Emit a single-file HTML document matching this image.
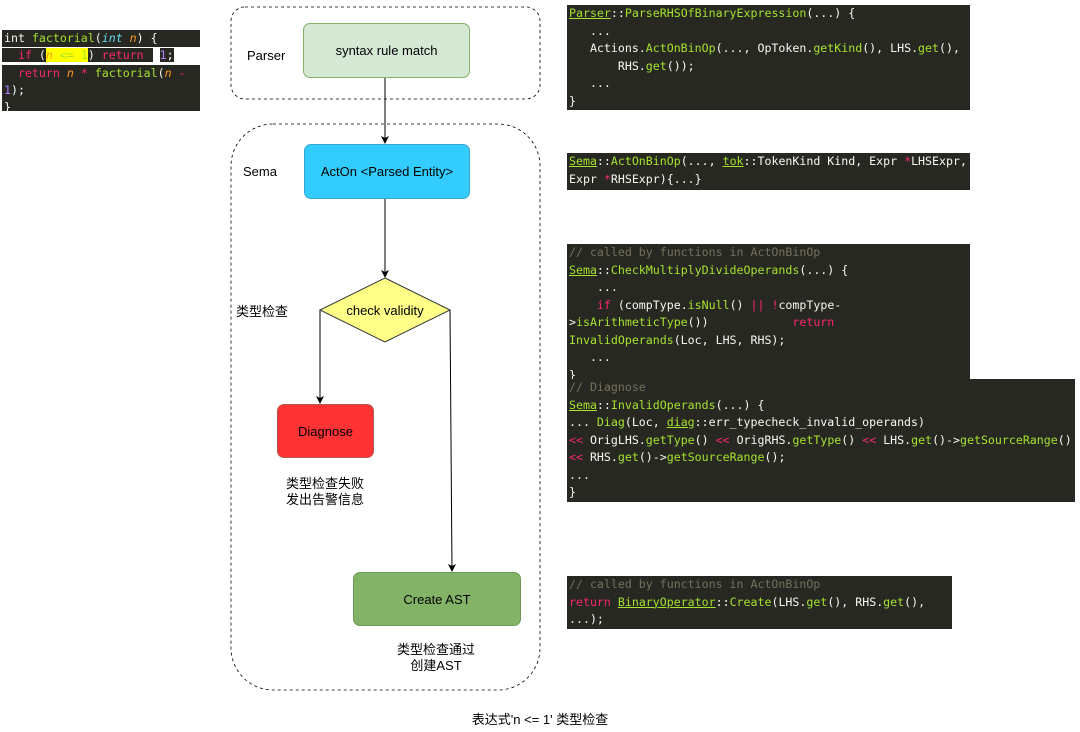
<!DOCTYPE html>
<html><head><meta charset="utf-8"><style>
body{margin:0;width:1080px;height:732px;background:#fff;position:relative;overflow:hidden;font-family:"Liberation Sans","Noto Sans CJK SC",sans-serif;}
.code{position:absolute;background:#272822;color:#f8f8f2;font-family:"DejaVu Sans Mono","Liberation Mono",monospace;font-size:11.6px;line-height:17.5px;white-space:pre;box-sizing:border-box;padding:0 2px;}
.g{color:#a6e22e}.r{color:#f92672}.c{color:#75715e}.o{color:#fd971f;font-style:italic}.b{color:#66d9ef;font-style:italic}.p{color:#ae81ff}.u{text-decoration:underline}
.t{position:absolute;font-size:13px;color:#000;white-space:nowrap}
.n{position:absolute;box-sizing:border-box;display:flex;align-items:center;justify-content:center;font-size:13px;border-radius:7px}
</style></head><body>
<div class="code" style="left:2px;top:30px;width:198px;height:17px;line-height:17px">int <span class="g">factorial</span>(<span class="b">int</span> <span class="o">n</span>) {</div>
<div class="code" style="left:2px;top:47px;width:198px;height:17px;line-height:17px;background:#fff;padding:0"><span style="background:#272822;padding:0 2px">  <span class="r">if</span> (<span style="background:#ffff00"><span class="o">n</span> <span class="g">&lt;=</span> <span class="g">1</span></span>) <span class="r">return</span> </span> <span style="background:#272822"><span class="p">1</span>;</span></div>
<div class="code" style="left:2px;top:65px;width:198px;height:46px;line-height:17px">  <span class="r">return</span> <span class="o">n</span> <span class="r">*</span> <span class="g">factorial</span>(<span class="o">n</span> <span class="r">-</span>
<span class="p">1</span>);
}</div>

<div class="code" style="left:567px;top:5px;width:403px;height:105px;padding-top:0"><span class="g u">Parser</span>::<span class="g">ParseRHSOfBinaryExpression</span>(...) {
   ...
   Actions.<span class="g">ActOnBinOp</span>(..., OpToken.<span class="g">getKind</span>(), LHS.<span class="g">get</span>(),
       RHS.<span class="g">get</span>());
   ...
}</div>
<div class="code" style="left:567px;top:153px;width:403px;height:37px"><span class="g u">Sema</span>::<span class="g">ActOnBinOp</span>(..., <span class="g u">tok</span>::TokenKind Kind, Expr <span class="r">*</span>LHSExpr,
Expr <span class="r">*</span>RHSExpr){...}</div>
<div class="code" style="left:567px;top:244px;width:403px;height:137px"><span class="c">// called by functions in ActOnBinOp</span>
<span class="g u">Sema</span>::<span class="g">CheckMultiplyDivideOperands</span>(...) {
    ...
    <span class="r">if</span> (compType.<span class="g">isNull</span>() <span class="r">||</span> <span class="r">!</span>compType-
&gt;<span class="g">isArithmeticType</span>())            <span class="r">return</span>
<span class="g">InvalidOperands</span>(Loc, LHS, RHS);
   ...
}</div>
<div class="code" style="left:567px;top:379px;width:508px;height:123px"><span class="c">// Diagnose</span>
<span class="g u">Sema</span>::<span class="g">InvalidOperands</span>(...) {
... <span class="g">Diag</span>(Loc, <span class="g u">diag</span>::err_typecheck_invalid_operands)
<span class="r">&lt;&lt;</span> OrigLHS.<span class="g">getType</span>() <span class="r">&lt;&lt;</span> OrigRHS.<span class="g">getType</span>() <span class="r">&lt;&lt;</span> LHS.<span class="g">get</span>()-&gt;<span class="g">getSourceRange</span>()
<span class="r">&lt;&lt;</span> RHS.<span class="g">get</span>()-&gt;<span class="g">getSourceRange</span>();
...
}</div>
<div class="code" style="left:567px;top:576px;width:385px;height:53px"><span class="c">// called by functions in ActOnBinOp</span>
<span class="r">return</span> <span class="g u">BinaryOperator</span>::<span class="g">Create</span>(LHS.<span class="g">get</span>(), RHS.<span class="g">get</span>(),
...);</div>

<svg style="position:absolute;left:0;top:0" width="1080" height="732">
<defs><marker id="a" markerWidth="8" markerHeight="8" refX="7" refY="4" orient="auto" markerUnits="userSpaceOnUse"><path d="M0,0L8,4L0,8L2,4z" fill="#000"/></marker></defs>
<rect x="231" y="7" width="309" height="92" rx="14" fill="none" stroke="#000" stroke-dasharray="3,3" stroke-width="0.8"/>
<rect x="231" y="124" width="309" height="566" rx="42" fill="none" stroke="#000" stroke-dasharray="3,3" stroke-width="0.8"/>
<path d="M385,78V143" stroke="#000" fill="none" marker-end="url(#a)"/>
<path d="M385,199V277" stroke="#000" fill="none" marker-end="url(#a)"/>
<path d="M320,310V403" stroke="#000" fill="none" marker-end="url(#a)"/>
<path d="M450,310L452,571" stroke="#000" fill="none" marker-end="url(#a)"/>
<polygon points="385,278 450,310 385,342 320,310" fill="#ffff88" stroke="#36393d"/>
<text x="385" y="315" font-size="13" text-anchor="middle" font-family="Liberation Sans">check validity</text>
</svg>
<div class="n" style="left:303px;top:23px;width:167px;height:55px;background:#d5e8d4;border:1px solid #82b366">syntax rule match</div>
<div class="n" style="left:304px;top:144px;width:166px;height:55px;background:#33ccff;border:1px solid #36a5d0">ActOn &lt;Parsed Entity&gt;</div>
<div class="n" style="left:277px;top:404px;width:97px;height:54px;background:#ff3333;border:1px solid #b85450">Diagnose</div>
<div class="n" style="left:353px;top:572px;width:168px;height:54px;background:#82b366;border:1px solid #6b9a55">Create AST</div>
<div class="t" style="left:247px;top:48px">Parser</div>
<div class="t" style="left:243px;top:164px">Sema</div>
<div class="t" style="left:236px;top:301px">类型检查</div>
<div class="t" style="left:286px;top:476px;text-align:center;line-height:16px">类型检查失败<br>发出告警信息</div>
<div class="t" style="left:397px;top:642px;text-align:center;line-height:16px">类型检查通过<br>创建AST</div>
<div class="t" style="left:0;width:1080px;text-align:center;top:709px">表达式'n &lt;= 1' 类型检查</div>
</body></html>
